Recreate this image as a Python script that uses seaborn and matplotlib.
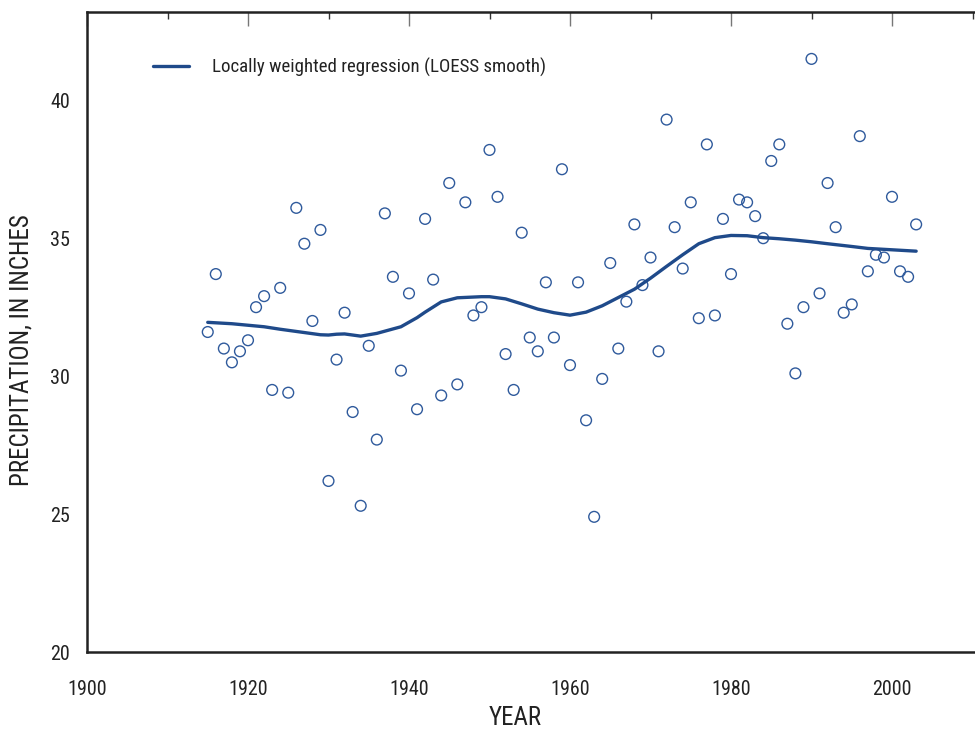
import matplotlib
matplotlib.use("Agg")
import matplotlib.pyplot as plt
import seaborn as sns
import pandas as pd
from matplotlib.ticker import MultipleLocator
from matplotlib import font_manager

# ---- data ----
years = list(range(1915, 2004))
precip = [31.6, 33.7, 31.0, 30.5, 30.9, 31.3, 32.5, 32.9, 29.5, 33.2,
          29.4, 36.1, 34.8, 32.0, 35.3, 26.2, 30.6, 32.3, 28.7, 25.3,
          31.1, 27.7, 35.9, 33.6, 30.2, 33.0, 28.8, 35.7, 33.5, 29.3,
          37.0, 29.7, 36.3, 32.2, 32.5, 38.2, 36.5, 30.8, 29.5, 35.2,
          31.4, 30.9, 33.4, 31.4, 37.5, 30.4, 33.4, 28.4, 24.9, 29.9,
          34.1, 31.0, 32.7, 35.5, 33.3, 34.3, 30.9, 39.3, 35.4, 33.9,
          36.3, 32.1, 38.4, 32.2, 35.7, 33.7, 36.4, 36.3, 35.8, 35.0,
          37.8, 38.4, 31.9, 30.1, 32.5, 41.5, 33.0, 37.0, 35.4, 32.3,
          32.6, 38.7, 33.8, 34.4, 34.3, 36.5, 33.8, 33.6, 35.5]

loess_years = [1915, 1918, 1922, 1924, 1927, 1929, 1930, 1931, 1932, 1934,
               1936, 1939, 1941, 1942, 1944, 1946, 1949, 1950, 1952, 1954,
               1956, 1958, 1960, 1962, 1964, 1966, 1968, 1970, 1972, 1974,
               1976, 1978, 1980, 1982, 1984, 1986, 1988, 1990, 1992, 1995,
               1997, 2000, 2003]
loess_values = [31.95, 31.90, 31.79, 31.70, 31.58, 31.50, 31.49, 31.52, 31.53, 31.45,
                31.55, 31.79, 32.12, 32.32, 32.69, 32.84, 32.88, 32.88, 32.80, 32.62,
                32.43, 32.30, 32.21, 32.32, 32.55, 32.85, 33.15, 33.55, 33.98, 34.40,
                34.80, 35.02, 35.10, 35.09, 35.02, 34.98, 34.93, 34.87, 34.80, 34.70,
                34.63, 34.58, 34.53]

x_ticks = [1900, 1920, 1940, 1960, 1980, 2000]
y_ticks = [20, 25, 30, 35, 40]
legend_label = "Locally weighted regression (LOESS smooth)"
x_label = "YEAR"
y_label = "PRECIPITATION, IN INCHES"

pts = pd.DataFrame({"year": years, "precip": precip})
smooth = pd.DataFrame({"year": loess_years, "value": loess_values})

sns.set_style("white")

# pick a condensed face if any is installed
entries = font_manager.fontManager.ttflist
fam = None
for pref in ["Liberation Sans Narrow", "Roboto Condensed", "Open Sans Condensed",
             "Noto Sans Condensed", "DejaVu Sans Condensed"]:
    if any(f.name == pref for f in entries):
        fam = pref
        break
stretch = "normal"
if fam is None:
    for f in entries:
        st = f.stretch
        if (isinstance(st, str) and "condensed" in st) or (isinstance(st, int) and st < 500):
            if f.style == "normal" and f.weight in (400, "normal", "regular"):
                fam = f.name
                stretch = "condensed"
                break
if fam is None:
    fam = "Liberation Sans"
plt.rcParams["font.family"] = [fam, "DejaVu Sans"]
plt.rcParams["font.stretch"] = stretch

fig = plt.figure(figsize=(9.75, 7.29), dpi=100)
px_per_year = 8.05
x0, x1 = 1900, 2012
ax_w_px = (x1 - x0) * px_per_year
ax = fig.add_axes([87/975, 1 - 652/729, ax_w_px / 975, 640/729])

line_color = "#1f4a8a"
point_color = "#2f5a9c"

sns.scatterplot(data=pts, x="year", y="precip", ax=ax, marker="o",
                facecolor="none", edgecolor=point_color, linewidth=1.0, s=60,
                zorder=3)
sns.lineplot(data=smooth, x="year", y="value", ax=ax, color=line_color,
             linewidth=2.4, label=legend_label, zorder=4)

ax.set_xlim(x0, x1)
ax.set_ylim(20, 43.2)
ax.set_xticks(x_ticks)
ax.set_yticks(y_ticks)
ax.xaxis.set_minor_locator(MultipleLocator(10))
ax.yaxis.set_minor_locator(MultipleLocator(2.5))

ax.tick_params(axis="both", which="major", direction="in", length=10, width=1,
               color="#777777", labelsize=14.5, labelcolor="#222222",
               top=True, right=True)
ax.tick_params(axis="x", which="major", pad=20)
ax.tick_params(axis="y", which="major", pad=12)
ax.tick_params(axis="both", which="minor", direction="in", length=5, width=1,
               color="#333333", top=True, right=True)
for sp in ax.spines.values():
    sp.set_color("#222222")
    sp.set_linewidth(1.8)
    sp.set_visible(True)

ax.set_xlabel(x_label, fontsize=18, color="#222222", labelpad=7)
ax.set_ylabel(y_label, fontsize=18, color="#222222", labelpad=12)
ax.xaxis.set_label_coords((515 - 87) / ax_w_px, -0.085)
ax.yaxis.label.set_y((652 - 350) / 640)

leg = ax.legend(loc="center left", bbox_to_anchor=(66 / ax_w_px, 0.914),
                frameon=False, fontsize=13.6, handlelength=1.9, handletextpad=1.2,
                borderpad=0, borderaxespad=0)
for t in leg.get_texts():
    t.set_color("#222222")

fig.savefig("out.png", dpi=100)
